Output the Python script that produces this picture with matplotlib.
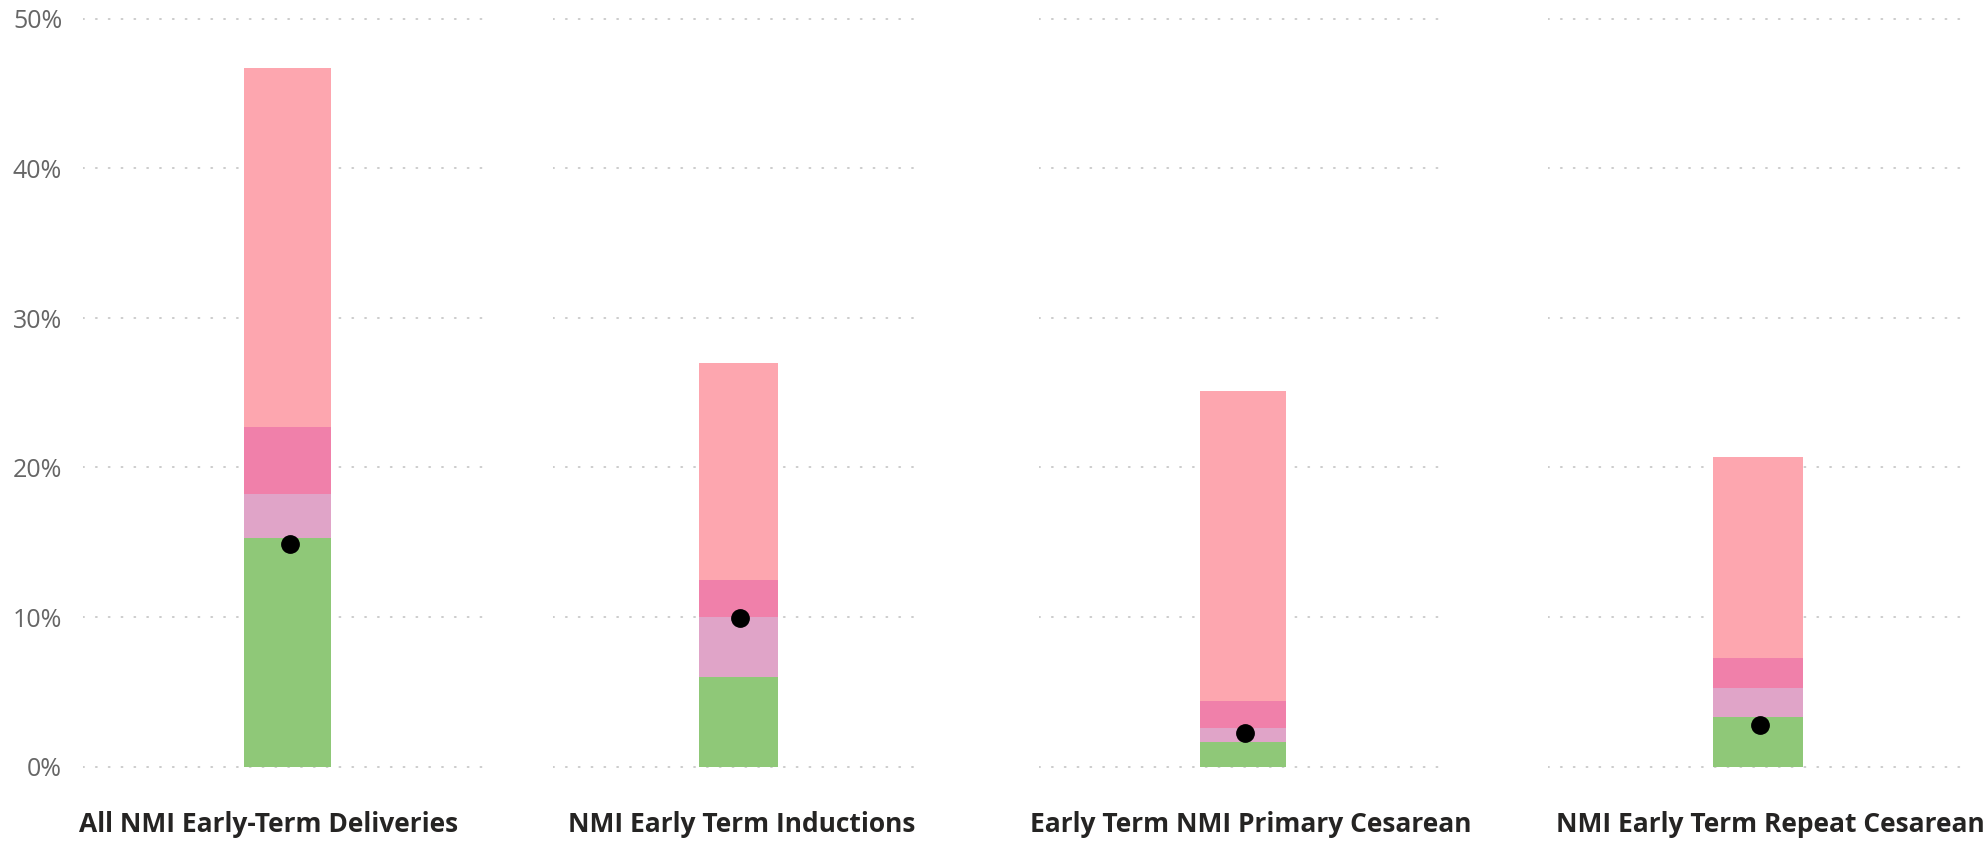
import matplotlib
matplotlib.use("Agg")
import matplotlib.pyplot as plt
from matplotlib.ticker import PercentFormatter

# categories shown as small multiples
categories = [
    "All NMI Early-Term Deliveries",
    "NMI Early Term Inductions",
    "Early Term NMI Primary Cesarean",
    "NMI Early Term Repeat Cesarean",
]

# band upper bounds (fraction), bottom to top
band_green = [0.153, 0.060, 0.0164, 0.0331]
band_lilac = [0.182, 0.100, 0.0258, 0.0525]
band_pink = [0.227, 0.125, 0.0438, 0.0726]
band_red = [0.467, 0.270, 0.251, 0.207]

# actual value (black dot)
actual = [0.149, 0.099, 0.0224, 0.0278]

y_ticks = [0.0, 0.1, 0.2, 0.3, 0.4, 0.5]

band_colors = ["#8FC878", "#E0A4C8", "#F080AA", "#FDA6AF"]

W, H = 1988, 846
fig = plt.figure(figsize=(W / 100, H / 100), dpi=100)

# panel extents in pixels (left, right)
panels_px = [(83, 492), (553, 924), (1039, 1447), (1548, 1968)]
# label anchor x in pixels and alignment
label_x_px = [269, 742, 1251, 1985]
label_ha = ["center", "center", "center", "right"]

# y scale: 0% at 766.5 px, 10% per 149.5 px
y0_px, px_per_unit = 766.5, 1495.0
ylo, yhi = -0.01, 0.51
bottom_px = y0_px - ylo * px_per_unit
top_px = y0_px - yhi * px_per_unit

bands = [band_green, band_lilac, band_pink, band_red]

for i, (cat, (l, r)) in enumerate(zip(categories, panels_px)):
    ax = fig.add_axes([l / W, (H - bottom_px) / H, (r - l) / W, (bottom_px - top_px) / H])
    ax.set_xlim(-0.5, 0.5)
    ax.set_ylim(ylo, yhi)

    prev = 0.0
    for band, col in zip(bands, band_colors):
        ax.bar(0, band[i] - prev, bottom=prev, width=0.213, color=col, linewidth=0, zorder=2)
        prev = band[i]

    ax.plot(0.005, actual[i], "o", color="black", markersize=12.5, zorder=3)

    for t in y_ticks:
        ax.axhline(t, color="#C8C8C8", linewidth=1.3, linestyle=(0, (0.6, 6.5)),
                   dash_capstyle="round", zorder=1)

    ax.set_yticks(y_ticks)
    ax.set_xticks([])
    for s in ax.spines.values():
        s.set_visible(False)
    ax.tick_params(axis="y", length=0, pad=15, labelsize=18, labelcolor="#666666")
    if i == 0:
        ax.yaxis.set_major_formatter(PercentFormatter(1.0, decimals=0))
        for lab in ax.get_yticklabels():
            lab.set_fontfamily("Open Sans")
    else:
        ax.set_yticklabels([])

    fig.text(label_x_px[i] / W, (H - 832) / H, cat, ha=label_ha[i], va="baseline",
             fontsize=19, fontweight="bold", family="Open Sans", color="#252423")

fig.savefig("out.png", dpi=100, facecolor="white")
